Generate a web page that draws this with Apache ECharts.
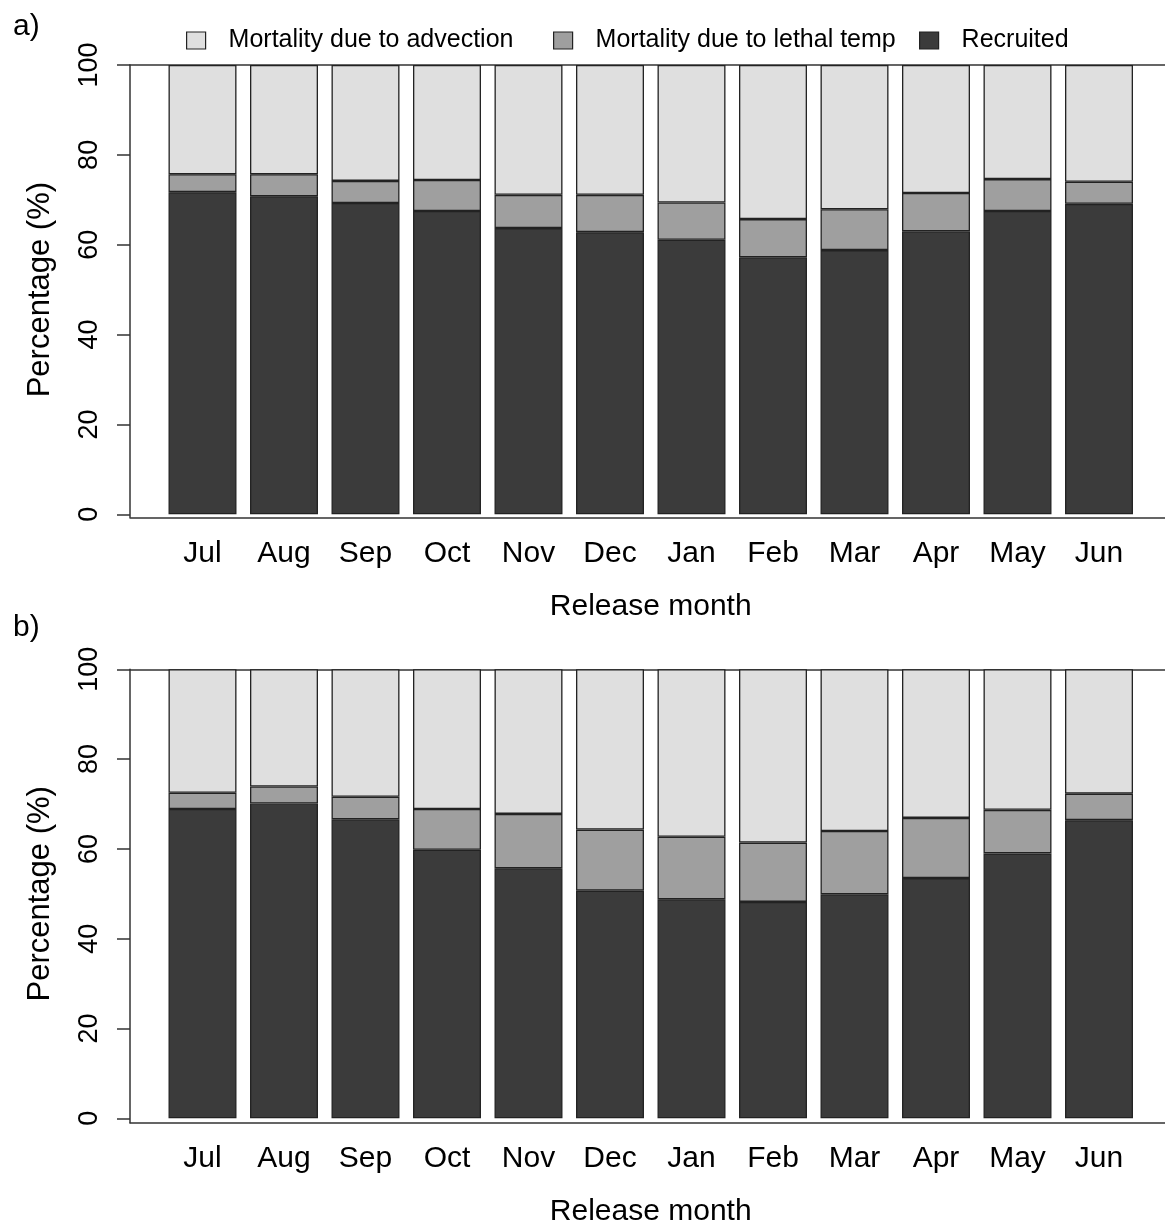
<!DOCTYPE html>
<html>
<head>
<meta charset="utf-8">
<script src="https://cdn.jsdelivr.net/npm/echarts@6/dist/echarts.min.js"></script>
<style>
html,body{margin:0;padding:0;background:#fff;overflow:hidden;}
#chart{width:1165px;height:1223px;}
</style>
</head>
<body>
<div id="chart"></div>
<script>
const months = ['Jul','Aug','Sep','Oct','Nov','Dec','Jan','Feb','Mar','Apr','May','Jun'];
const legendNames = ['Mortality due to advection','Mortality due to lethal temp','Recruited'];
// Panel a (percentages)
const aRecruited = [71.7,70.8,69.3,67.5,63.7,62.8,61.1,57.2,58.8,63.0,67.5,69.1];
const aLethal    = [4.0,4.9,4.9,6.9,7.4,8.3,8.3,8.5,9.1,8.5,7.1,4.9];
const aAdvection = [24.3,24.3,25.8,25.6,28.9,28.9,30.6,34.3,32.1,28.5,25.4,26.0];
// Panel b (percentages)
const bRecruited = [68.9,70.1,66.6,59.8,55.7,50.7,48.8,48.2,49.9,53.5,59.0,66.4];
const bLethal    = [3.6,3.8,5.0,9.1,12.1,13.6,13.9,13.2,14.1,13.4,9.7,5.9];
const bAdvection = [27.5,26.1,28.4,31.1,32.2,35.7,37.3,38.6,36.0,33.1,31.3,27.7];
const panelLabels = ['a)','b)'];
const xTitle = 'Release month';
const yTitle = 'Percentage (%)';

const COL_ADV = '#dfdfdf', COL_LET = '#9f9f9f', COL_REC = '#3b3b3b';
const LINE = '#333333';
const FONT = 'Liberation Sans, Arial, Helvetica, sans-serif';

const chart = echarts.init(document.getElementById('chart'), null, {renderer:'canvas'});

const panels = [
  {top:65, h0:449.3, below:3.0, rec:aRecruited, let:aLethal, adv:aAdvection},
  {top:669.3, h0:449.0, below:4.4, rec:bRecruited, let:bLethal, adv:bAdvection}
];

const grids = [], xAxes = [], yAxes = [], series = [];
panels.forEach((p, i) => {
  const gFrame = grids.length;
  grids.push({left:130, right:0, top:p.top, height:p.h0 + p.below, outerBoundsMode:'none', containLabel:false});
  const gData = grids.length;
  grids.push({left:161.75, width:978, top:p.top, height:p.h0, outerBoundsMode:'none', containLabel:false});
  // frame axes
  xAxes.push({gridIndex:gFrame, type:'value', min:0, max:1, position:'bottom',
    axisLine:{show:true, onZero:false, lineStyle:{color:LINE, width:1.5}},
    axisTick:{show:false}, axisLabel:{show:false}, splitLine:{show:false}});
  xAxes.push({gridIndex:gFrame, type:'value', min:0, max:1, position:'top',
    axisLine:{show:true, onZero:false, lineStyle:{color:LINE, width:1.5}},
    axisTick:{show:false}, axisLabel:{show:false}, splitLine:{show:false}});
  const xData = xAxes.length;
  xAxes.push({gridIndex:gData, type:'category', data:months,
    axisLine:{show:false}, axisTick:{show:false}, splitLine:{show:false},
    axisLabel:{color:'#000', fontSize:30, fontFamily:FONT, margin:21 + p.below},
    name:xTitle, nameLocation:'middle', nameGap:74 + p.below,
    nameTextStyle:{color:'#000', fontSize:30, fontFamily:FONT}});
  yAxes.push({gridIndex:gFrame, type:'value', min:0, max:1,
    axisLine:{show:true, onZero:false, lineStyle:{color:LINE, width:1.5}},
    axisTick:{show:false}, axisLabel:{show:false}, splitLine:{show:false}});
  const yData = yAxes.length;
  yAxes.push({gridIndex:gData, type:'value', min:0, max:100, interval:20, offset:31.75,
    axisLine:{show:false}, axisTick:{show:true, length:13, lineStyle:{color:LINE, width:1.5}},
    axisLabel:{color:'#000', fontSize:27, fontFamily:FONT, rotate:90, margin:27,
      showMinLabel:true, showMaxLabel:true},
    splitLine:{show:false},
    name:yTitle, nameLocation:'middle', nameRotate:90, nameGap:74,
    nameTextStyle:{color:'#000', fontSize:31, fontFamily:FONT}});
  const common = {type:'bar', stack:'s'+i, xAxisIndex:xData, yAxisIndex:yData, barWidth:'83.4%'};
  series.push(Object.assign({name:legendNames[2], data:p.rec,
    itemStyle:{color:COL_REC, borderColor:'#222', borderWidth:1.3}}, common));
  series.push(Object.assign({name:legendNames[1], data:p.let,
    itemStyle:{color:COL_LET, borderColor:'#222', borderWidth:1.3}}, common));
  series.push(Object.assign({name:legendNames[0], data:p.adv,
    itemStyle:{color:COL_ADV, borderColor:'#222', borderWidth:1.3}}, common));
});

const legendLefts = [186, 553, 919];
const legends = legendNames.map((n, k) => ({
  data:[n], left:legendLefts[k], top:28, padding:0, itemWidth:19, itemHeight:17, icon:'rect',
  itemStyle:{borderColor:'#222', borderWidth:1.2},
  textStyle:{fontSize:25, color:'#000', fontFamily:FONT, padding:[0,0,0,18]}
}));

chart.setOption({
  animation:false,
  backgroundColor:'#fff',
  title:[
    {text:panelLabels[0], left:8, top:7, textStyle:{fontSize:30, fontWeight:'normal', color:'#000', fontFamily:FONT}},
    {text:panelLabels[1], left:8, top:608, textStyle:{fontSize:30, fontWeight:'normal', color:'#000', fontFamily:FONT}}
  ],
  legend:legends,
  grid:grids, xAxis:xAxes, yAxis:yAxes, series:series
});
</script>
</body>
</html>
